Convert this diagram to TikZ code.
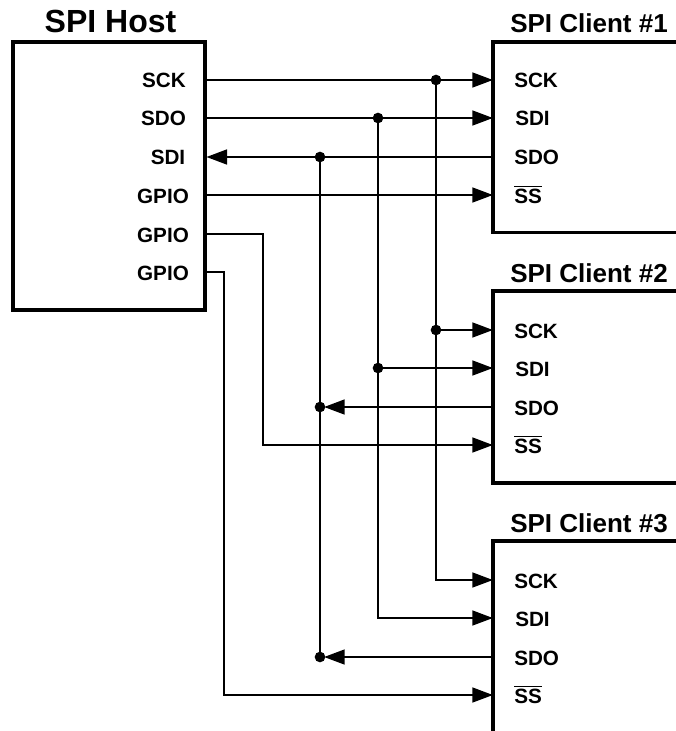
\documentclass[tikz,border=0pt]{standalone}
\usepackage{fontspec}
\setmainfont{Liberation Sans}
\usetikzlibrary{arrows.meta, positioning}

\begin{document}
\begin{tikzpicture}[
  x=0.75pt, y=-0.75pt,
  chip/.style={rectangle, draw=black, line width=2.5pt, outer sep=0pt,
    anchor=north west, inner sep=0pt},
  client/.style={chip, minimum width=142.5pt},
  title/.style={anchor=base west, inner sep=0pt, font=\bfseries\fontsize{19.5}{20}\selectfont},
  pin/.style={anchor=base, inner sep=0pt, font=\bfseries\fontsize{15.5}{16}\selectfont},
  cpin/.style={pin, anchor=base west},
  wire/.style={line width=1.9pt, line join=miter},
  arr/.style={wire, -{Triangle[length=15.5pt, width=11pt]}},
  rarr/.style={wire, {Triangle[length=15.5pt, width=11pt]}-},
  junct/.style={circle, fill=black, inner sep=0pt, outer sep=0pt, minimum size=8pt},
]
\useasboundingbox (0,0) rectangle (675,731);
% host
\node[chip, minimum width=144pt, minimum height=201pt] (host) at (13,42) {};
\node[anchor=base, inner sep=0pt, font=\bfseries\fontsize{24}{25}\selectfont]
  (hosttitle) at (110.5,33) {SPI Host};
\foreach \nm/\txt/\xx/\yy in {hsck/SCK/164/80, hsdo/SDO/163.5/118, hsdi/SDI/168/157,
    hgpa/GPIO/163/195, hgpb/GPIO/163/234, hgpc/GPIO/163/272} {
  \node[pin] (\nm lbl) at (\xx,\yy+8) {\txt};
  \coordinate (\nm) at (host.east |- 0,\yy);
}
% clients
\node[client, minimum height=143pt] (cla) at (493,42) {};
\node[client, minimum height=144pt] (clb) at (493,291) {};
\node[client, minimum height=150pt] (clc) at (493,541) {};
\node[title] (clatitle) at (510,33) {SPI Client \#1};
\node[title] (clbtitle) at (510,282) {SPI Client \#2};
\node[title] (clctitle) at (510,532) {SPI Client \#3};
\foreach \c/\dy in {cla/0, clb/250, clc/500} {
  \node[cpin] (\c sckl) at (514,80+\dy+8) {SCK};
  \node[cpin] (\c sdil) at (515,118+\dy+8) {SDI};
  \node[cpin] (\c sdol) at (514,157+\dy+8) {SDO};
  \node[cpin] (\c ssl)  at (514,195+\dy+8) {$\overline{\mbox{SS}}$};
  \coordinate (\c sck) at (\c.west |- 0,80+\dy);
  \coordinate (\c sdi) at (\c.west |- 0,118+\dy);
  \coordinate (\c sdo) at (\c.west |- 0,157+\dy);
  \coordinate (\c ss)  at (\c.west |- 0,195+\dy);
}
% junctions
\node[junct] (jcka) at (436,80) {};
\node[junct] (jckb) at (436,330) {};
\node[junct] (jdia) at (378,118) {};
\node[junct] (jdib) at (378,368) {};
\node[junct] (jdoa) at (320,157) {};
\node[junct] (jdob) at (320,407) {};
\node[junct] (jdoc) at (320,657) {};
% wires
\draw[arr] (hsck) -- (clasck);
\draw[arr] (hsdo) -- (clasdi);
\draw[rarr, shorten <=1pt] (hsdi) -- (clasdo);
\draw[arr] (hgpa) -- (class);
\draw[arr] (hgpb) -- (263,234) |- (clbss);
\draw[arr] (hgpc) -- (224,272) |- (clcss);
\draw[arr] (jcka.center) |- (clcsck);
\draw[arr] (jdia.center) |- (clcsdi);
\draw[wire] (jdoa.center) -- (jdoc.center);
\draw[arr] (jckb.center) -- (clbsck);
\draw[arr] (jdib.center) -- (clbsdi);
\draw[rarr, shorten <=-1pt] (jdob) -- (clbsdo);
\draw[rarr, shorten <=-1pt] (jdoc) -- (clcsdo);
\end{tikzpicture}
\end{document}
